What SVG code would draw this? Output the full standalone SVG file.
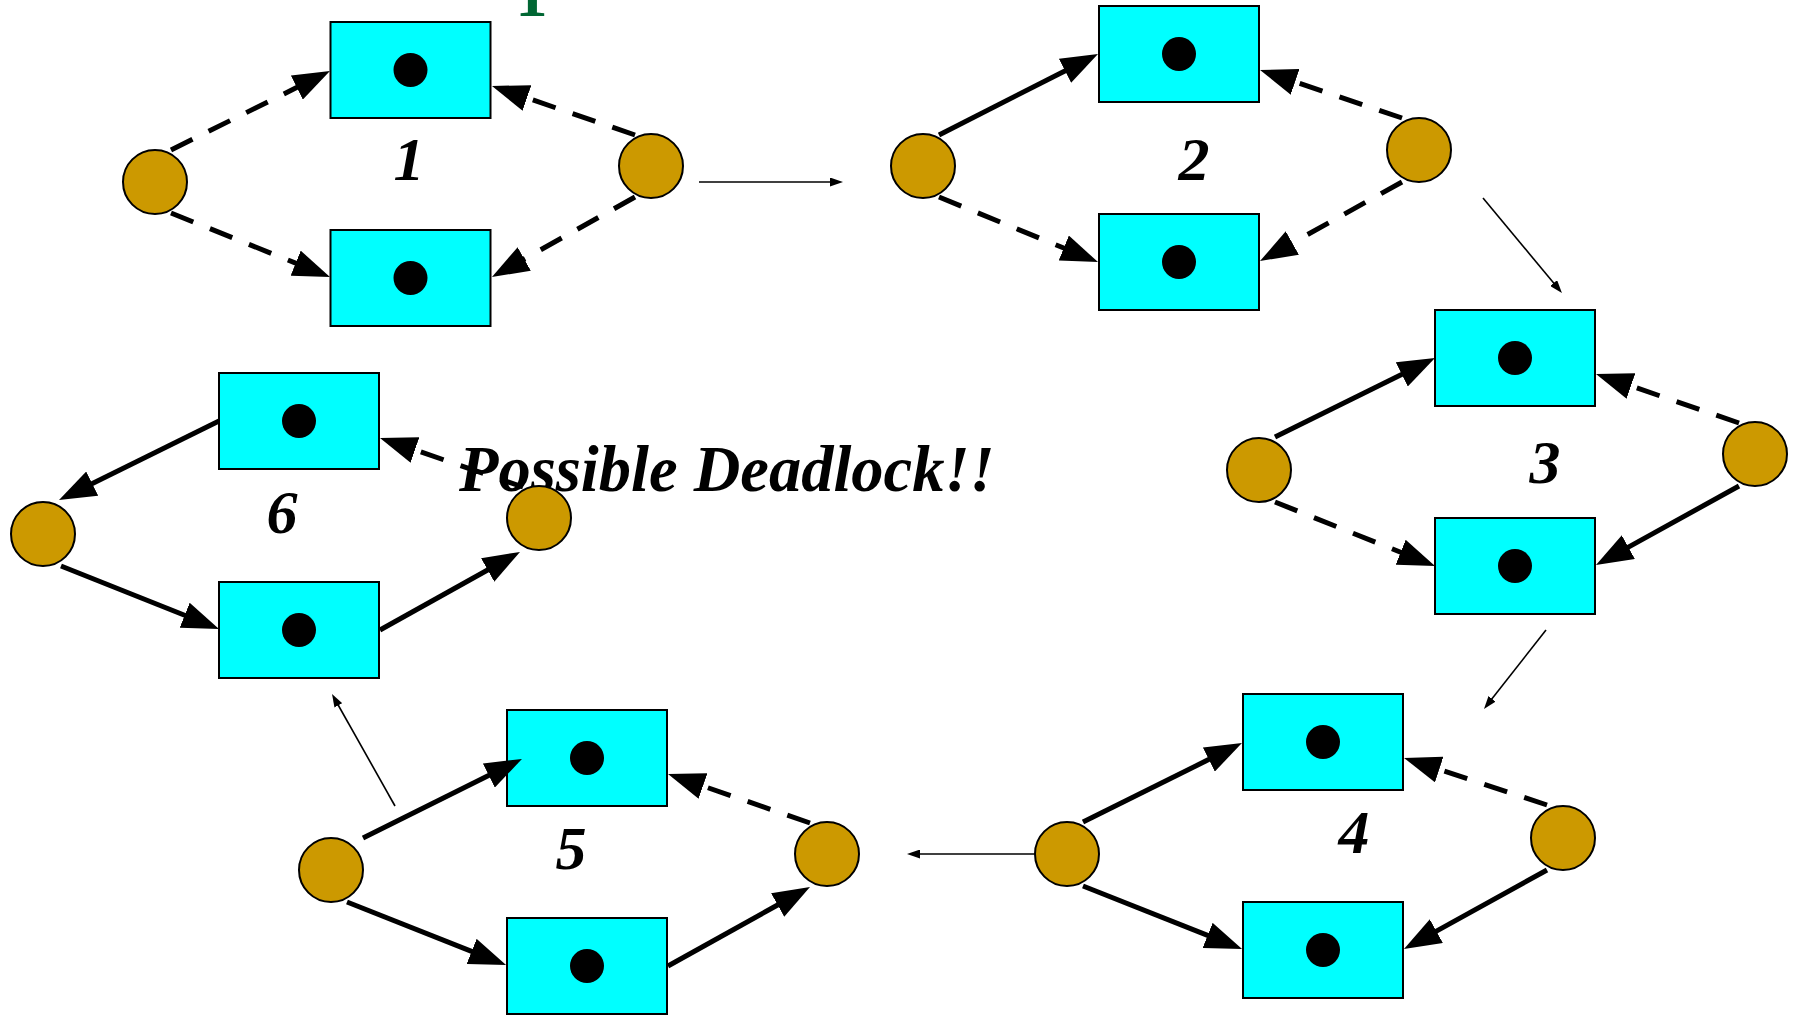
<svg xmlns="http://www.w3.org/2000/svg" width="1800" height="1015" viewBox="0 0 1800 1015">
<style>
.tr{fill:#00FFFF;stroke:#000;stroke-width:2}
.pl{fill:#CC9900;stroke:#000;stroke-width:2}
.tk{fill:#000}
.lbl{font-family:"Liberation Serif","Times New Roman",serif;font-weight:bold;font-style:italic;font-size:62px;fill:#000;text-anchor:middle}
.big{font-family:"Liberation Serif","Times New Roman",serif;font-weight:bold;font-style:italic;font-size:64.5px;fill:#000}
.ttl{font-family:"Liberation Serif","Times New Roman",serif;font-weight:bold;font-size:64px;fill:#006633;text-anchor:middle}
.s{fill:none;stroke:#000;stroke-width:5;marker-end:url(#ah)}
.d{fill:none;stroke:#000;stroke-width:5;stroke-dasharray:24 18;marker-end:url(#ah)}
.t{fill:none;stroke:#000;stroke-width:1.6;marker-end:url(#th)}
</style>
<defs>
<marker id="ah" markerUnits="userSpaceOnUse" viewBox="0 0 37 27" markerWidth="37" markerHeight="27" refX="2" refY="13.5" orient="auto">
<path d="M0,0 L37,13.5 L0,27 z" fill="#000"/>
</marker>
<marker id="th" markerUnits="userSpaceOnUse" viewBox="0 0 13 9" markerWidth="13" markerHeight="9" refX="1" refY="4.5" orient="auto">
<path d="M0,0 L13,4.5 L0,9 z" fill="#000"/>
</marker>
</defs>
<rect width="1800" height="1015" fill="#fff"/>
<text class="ttl" x="531.5" y="15.5">1</text>
<text id="deadlock" class="big" x="459" y="491">Possible Deadlock!!</text>

<g id="panel1">
<g id="p1-t1"><rect class="tr" x="330.5" y="22" width="160" height="96"/><circle class="tk" cx="410.5" cy="70" r="17"/></g>
<g id="p1-t2"><rect class="tr" x="330.5" y="230" width="160" height="96"/><circle class="tk" cx="410.5" cy="278" r="17"/></g>
<g id="p1-pl"><circle class="pl" cx="155" cy="182" r="32"/></g>
<g id="p1-pr"><circle class="pl" cx="651" cy="166" r="32"/></g>
<text class="lbl" x="409" y="180">1</text>
</g>
<g id="panel2">
<g id="p2-t1"><rect class="tr" x="1099" y="6" width="160" height="96"/><circle class="tk" cx="1179" cy="54" r="17"/></g>
<g id="p2-t2"><rect class="tr" x="1099" y="214" width="160" height="96"/><circle class="tk" cx="1179" cy="262" r="17"/></g>
<g id="p2-pl"><circle class="pl" cx="923" cy="166" r="32"/></g>
<g id="p2-pr"><circle class="pl" cx="1419" cy="150" r="32"/></g>
<text class="lbl" x="1194" y="180">2</text>
</g>
<g id="panel3">
<g id="p3-t1"><rect class="tr" x="1435" y="310" width="160" height="96"/><circle class="tk" cx="1515" cy="358" r="17"/></g>
<g id="p3-t2"><rect class="tr" x="1435" y="518" width="160" height="96"/><circle class="tk" cx="1515" cy="566" r="17"/></g>
<g id="p3-pl"><circle class="pl" cx="1259" cy="470" r="32"/></g>
<g id="p3-pr"><circle class="pl" cx="1755" cy="454" r="32"/></g>
<text class="lbl" x="1545" y="483">3</text>
</g>
<g id="panel4">
<g id="p4-t1"><rect class="tr" x="1243" y="694" width="160" height="96"/><circle class="tk" cx="1323" cy="742" r="17"/></g>
<g id="p4-t2"><rect class="tr" x="1243" y="902" width="160" height="96"/><circle class="tk" cx="1323" cy="950" r="17"/></g>
<g id="p4-pl"><circle class="pl" cx="1067" cy="854" r="32"/></g>
<g id="p4-pr"><circle class="pl" cx="1563" cy="838" r="32"/></g>
<text class="lbl" x="1354" y="853">4</text>
</g>
<g id="panel5">
<g id="p5-t1"><rect class="tr" x="507" y="710" width="160" height="96"/><circle class="tk" cx="587" cy="758" r="17"/></g>
<g id="p5-t2"><rect class="tr" x="507" y="918" width="160" height="96"/><circle class="tk" cx="587" cy="966" r="17"/></g>
<g id="p5-pl"><circle class="pl" cx="331" cy="870" r="32"/></g>
<g id="p5-pr"><circle class="pl" cx="827" cy="854" r="32"/></g>
<text class="lbl" x="571" y="869">5</text>
</g>
<g id="panel6">
<g id="p6-t1"><rect class="tr" x="219" y="373" width="160" height="96"/><circle class="tk" cx="299" cy="421" r="17"/></g>
<g id="p6-t2"><rect class="tr" x="219" y="582" width="160" height="96"/><circle class="tk" cx="299" cy="630" r="17"/></g>
<g id="p6-pl"><circle class="pl" cx="43" cy="534" r="32"/></g>
<g id="p6-pr"><circle class="pl" cx="539" cy="518" r="32"/></g>
<text class="lbl" x="282" y="533">6</text>
</g>

<g id="connectors">
<path class="d" d="M171,150 L298.6,86.6"/>
<path class="d" d="M171,213 L297.5,263.9"/>
<path class="d" d="M635,135 L525.1,97.3"/>
<path class="d" d="M635,197 L522.5,259.9"/>

<path class="s" d="M939,135 L1066.8,69.9"/>
<path class="d" d="M939,197 L1065.6,248.8"/>
<path class="d" d="M1402,118 L1293.2,81.2"/>
<path class="d" d="M1402,182 L1290.6,244"/>

<path class="s" d="M1275,437 L1403.6,373.5"/>
<path class="d" d="M1275,502 L1402.5,553"/>
<path class="d" d="M1739,423 L1629.1,385.3"/>
<path class="s" d="M1739,486 L1626.6,548.1"/>

<path class="s" d="M1083,822 L1210.6,758.6"/>
<path class="s" d="M1083,886 L1209.5,936.1"/>
<path class="d" d="M1547,805 L1437.3,768.9"/>
<path class="s" d="M1547,870 L1434.6,932.1"/>

<path class="s" d="M363,838 L490.6,774.6"/>
<path class="s" d="M347,902 L473.5,952.1"/>
<path class="d" d="M810,823 L701.1,785.4"/>
<path class="s" d="M668,966 L779.4,904"/>

<path class="s" d="M219,421 L90.4,484.5"/>
<path class="s" d="M61,566 L186.5,616"/>
<path class="s" d="M380,630 L489.4,569"/>
<path class="d" d="M523,487 L413.1,449.3"/>

<path class="t" d="M699,182 L831,182"/>
<path class="t" d="M1483,198 L1554.3,283.8"/>
<path class="t" d="M1546,630 L1491.4,699.6"/>
<path class="t" d="M1035,854 L919,854"/>
<path class="t" d="M395,806 L337.9,704.5"/>
</g>
</svg>
